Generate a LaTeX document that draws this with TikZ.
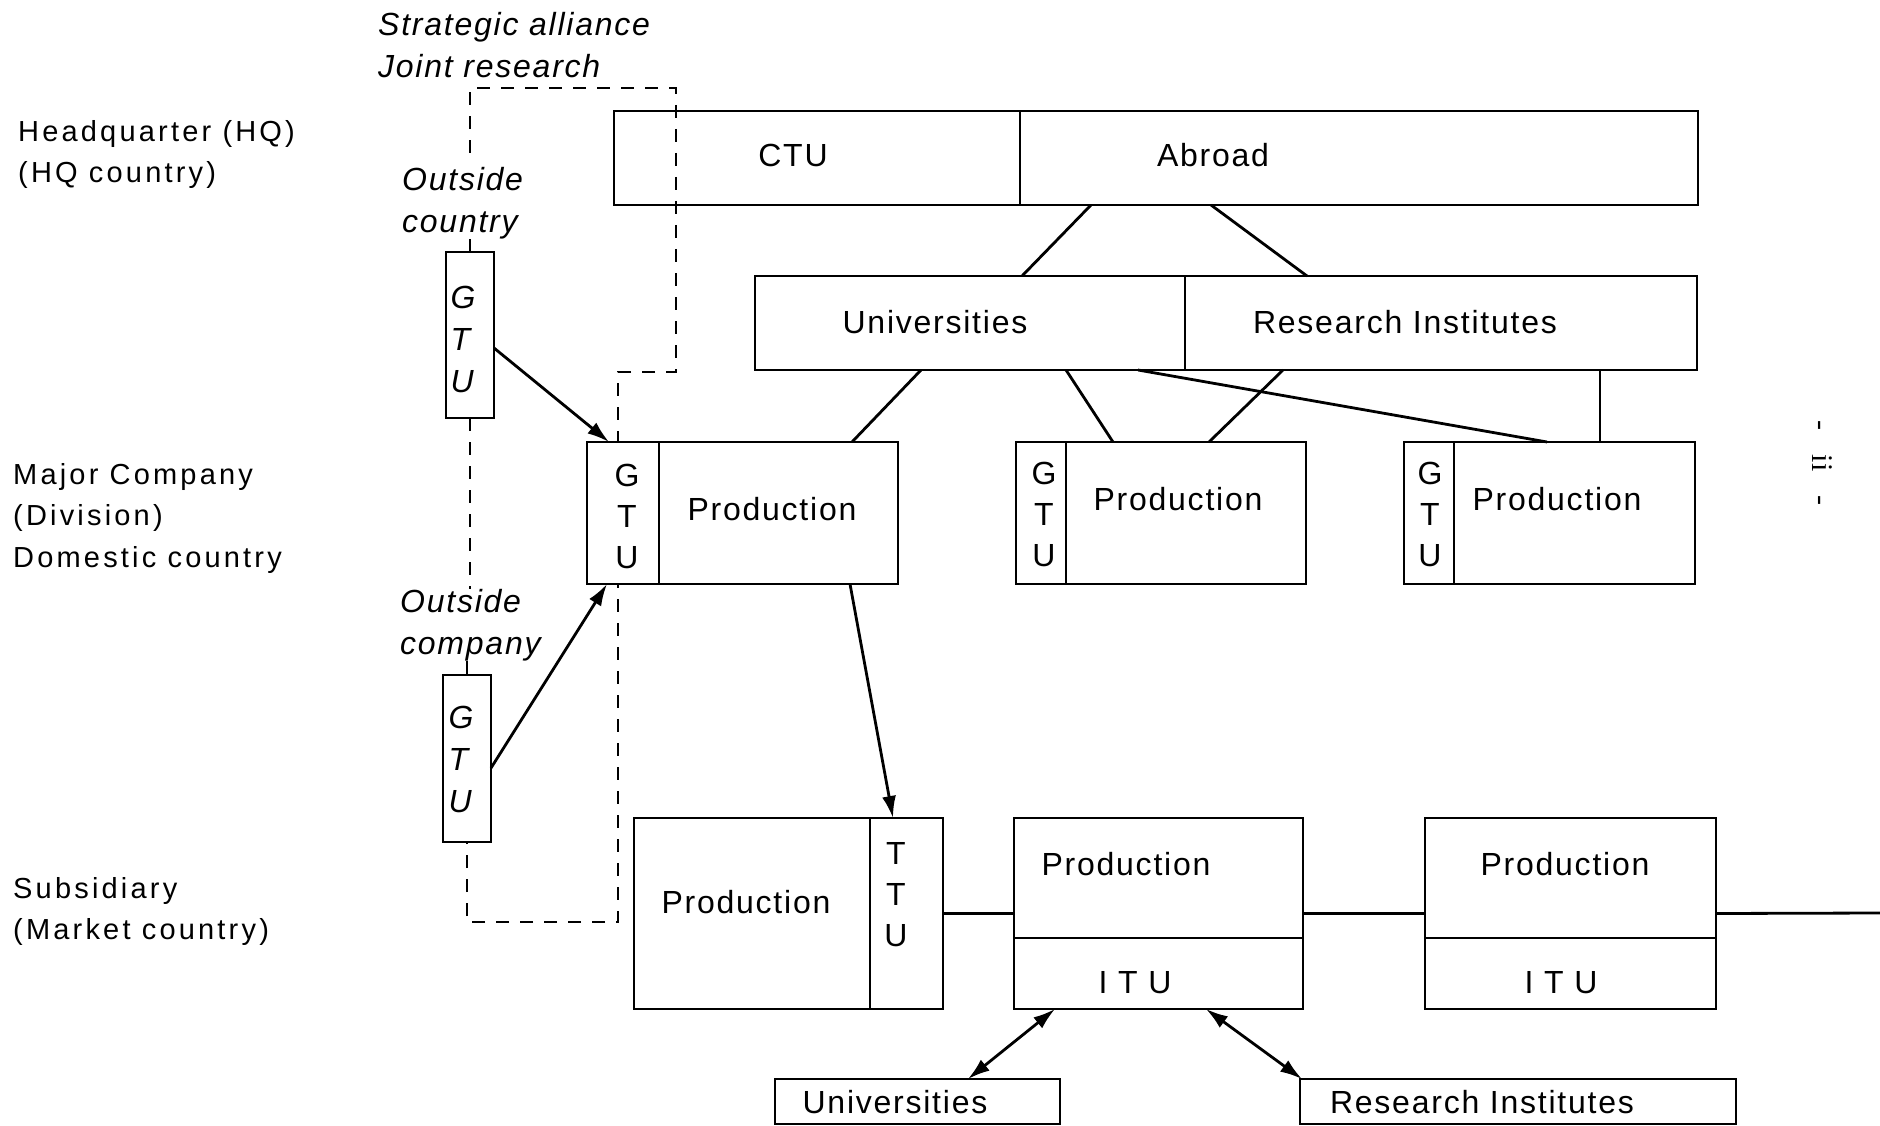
\documentclass[tikz,border=0pt]{standalone}
\usepackage{fontspec}
\setmainfont{Liberation Sans}[LetterSpace=5.5]
\newfontfamily\sidefont{Liberation Sans}[LetterSpace=11]
\newfontfamily\pagefont{Liberation Serif}
\usetikzlibrary{arrows.meta,backgrounds}

\tikzset{
  box/.style={draw, line width=2.9pt, anchor=north west, inner sep=0pt, outer sep=0pt},
  boxtext/.style={font=\fontsize{32}{41}\selectfont, align=center, inner sep=0pt},
  note/.style={font=\fontsize{32}{42}\selectfont\itshape, align=left, anchor=north west, inner sep=0pt},
  side/.style={font=\sidefont\fontsize{29}{41.5}\selectfont, align=left, anchor=north west, inner sep=0pt},
  link/.style={line width=2.8pt},
  arr/.style={link, -{Latex[length=22pt,width=14pt]}},
  twoway/.style={link, {Latex[length=22pt,width=14pt]}-{Latex[length=22pt,width=14pt]}},
  dashline/.style={line width=2.5pt, dash pattern=on 13pt off 11pt},
}

\begin{document}
\begin{tikzpicture}[x=1pt,y=-1pt]
\useasboundingbox (0,0) rectangle (1880,1126);

% boxes: name / left / top / width / height
\foreach \n/\x/\y/\w/\h in {ctu/614/111/406/94, abroad/1020/111/678/94,
    uni/755/276/430/94, ri/1185/276/512/94,
    gtu1/587/442/72/142, prod1/659/442/239/142,
    gtu2/1016/442/50/142, prod2/1066/442/240/142,
    gtu3/1404/442/50/142, prod3/1454/442/241/142,
    gtuA/446/252/48/166, gtuB/443/675/48/167,
    sub/634/818/236/191, ttu/870/818/73/191,
    s2top/1014/818/289/120, s2itu/1014/938/289/71,
    s3top/1425/818/291/120, s3itu/1425/938/291/71,
    unib/775/1079/285/45, rib/1300/1079/436/45}
  \node[box, minimum width=\w pt, minimum height=\h pt] (\n) at (\x,\y) {};

% texts in the boxes
\foreach \n/\x/\y/\lbl in {ctu/793/155/CTU, abroad/1213/155/Abroad,
    uni/935/322/Universities, ri/1405/322/Research Institutes,
    prod1/772/509/Production, gtu1/627/516/{G\\T\\U},
    prod2/1178/499/Production, gtu2/1044/514/{G\\T\\U},
    prod3/1557/499/Production, gtu3/1430/514/{G\\T\\U},
    sub/746/902/Production, ttu/896/895/{T\\T\\U},
    s2top/1126/864/Production, s2itu/1135/983/I T U,
    s3top/1565/864/Production, s3itu/1561/983/I T U,
    unib/895/1102/Universities, rib/1482/1102/Research Institutes}
  \node[boxtext] (\n-t) at (\x,\y) {\lbl};

\node[note, anchor=center] (gtuA-t) at (463,339) {G\\T\\U};
\node[note, anchor=center] (gtuB-t) at (461,759) {G\\T\\U};

% level labels
\node[side] (hq) at (18,120) {Headquarter (HQ)\\(HQ country)};
\node[side] (major) at (13,463) {Major Company\\(Division)\\Domestic country};
\node[side] (subs) at (13,877) {Subsidiary\\(Market country)};

\node[note] (alli) at (378,12) {Strategic alliance\\Joint research};
\node[note] (outc) at (402,167) {Outside\\country};
\node[note] (outm) at (400,589) {Outside\\company};

\node[font=\pagefont\fontsize{30}{36}\selectfont, rotate=-90, inner sep=0pt] (pg) at (1822,463) {-\hspace{24pt}ii\hspace{24pt}-};

\coordinate (jtop) at (470,153);
\coordinate (ja) at (676,88);
\coordinate (jb) at (618,372);
\coordinate (jc) at (618,922);
\coordinate (edge) at (1880,913);

\begin{scope}[on background layer]
  \draw[dashline] (jtop) |- (ja) |- (jb) |- (jc) -| (gtuB.south);
  \draw[dashline] (gtuA.south) -- (gtuA.south |- outm.north);
  \fill[white] (gtu1.north west) rectangle (gtu1.south east);
\end{scope}

\draw[link] (gtuA.north |- outc.south) -- (gtuA.north);
\draw[link] (gtuB.north |- outm.south) -- (gtuB.north);

\draw[link] (abroad.south -| 1091,0) -- (uni.north -| 1022,0);
\draw[link] (abroad.south -| 1211,0) -- (ri.north -| 1307,0);
\draw[link] (uni.south -| 921,0) -- (prod1.north -| 852,0);
\draw[link] (uni.south -| 1066,0) -- (prod2.north -| 1113,0);
\draw[link] (ri.south -| 1283,0) -- (prod2.north -| 1209,0);
\draw[link] (uni.south -| 1138,0) -- (prod3.north -| 1547,0);
\draw[link] (ri.south -| 1600,0) -- (prod3.north -| 1600,0);

\draw[link] (ttu.east) -- (ttu.east -| s2top.west);
\draw[link] (s2top.east |- ttu.east) -- (ttu.east -| s3top.west);
\draw[link] (s3top.east |- ttu.east) -- (edge);

\draw[arr] (gtuA.east |- 0,348) -- (gtu1.north -| 609,0);
\draw[arr] (gtuB.east |- 0,768) -- (gtu1.south -| 607,0);
\draw[arr] (prod1.south -| 850,0) -- (ttu.north -| 893,0);
\draw[twoway] (s2itu.south -| 1055,0) -- (unib.north -| 968,0);
\draw[twoway] (s2itu.south -| 1206,0) -- (rib.north -| 1302,0);
\end{tikzpicture}
\end{document}
